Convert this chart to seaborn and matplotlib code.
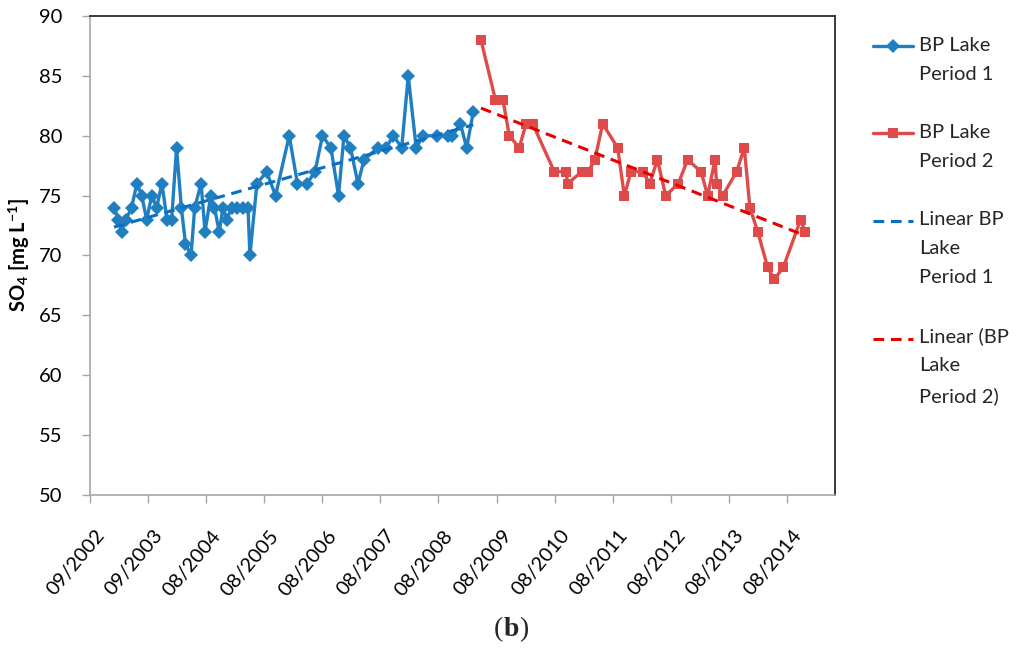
import numpy as np
import pandas as pd
import matplotlib
matplotlib.use("Agg")
import matplotlib.pyplot as plt
import matplotlib.transforms as mtransforms
from matplotlib.legend_handler import HandlerLine2D
from matplotlib.lines import Line2D
import seaborn as sns

# ---- data (days since 2002-09-01, SO4 in mg/L) ----
days_p1 = [151, 179, 198, 226, 261, 295, 325, 356, 388, 419,
           452, 484, 513, 544, 574, 600, 635, 658, 698, 723,
           759, 782, 812, 836, 859, 890, 922, 960, 993, 1005,
           1049, 1110, 1166, 1252, 1304, 1364, 1414, 1461, 1514, 1562,
           1596, 1637, 1684, 1722, 1810, 1860, 1907, 1959, 2000, 2050,
           2094, 2179, 2247, 2278, 2328, 2367, 2409]
so4_p1 = [74, 73, 72, 73, 74, 76, 75, 73, 75, 74,
          76, 73, 73, 79, 74, 71, 70, 74, 76, 72,
          75, 74, 72, 74, 73, 74, 74, 74, 74, 70,
          76, 77, 75, 80, 76, 76, 77, 80, 79, 75,
          80, 79, 76, 78, 79, 79, 80, 79, 85, 79,
          80, 80, 80, 80, 81, 79, 82]
days_p2 = [2457, 2548, 2595, 2635, 2698, 2740, 2782, 2918, 2991, 3002,
           3090, 3131, 3173, 3222, 3316, 3358, 3400, 3475, 3517, 3566,
           3618, 3697, 3756, 3840, 3882, 3928, 3938, 3976, 4064, 4112,
           4147, 4196, 4259, 4300, 4357, 4466, 4493]
so4_p2 = [88, 83, 83, 80, 79, 81, 81, 77, 77, 76,
          77, 77, 78, 81, 79, 75, 77, 77, 76, 78,
          75, 76, 78, 77, 75, 78, 76, 75, 77, 79,
          74, 72, 69, 68, 69, 73, 72]

tick_days = [0, 365, 730, 1095, 1460, 1825, 2190, 2555, 2920, 3285, 3650, 4015, 4380]
tick_labels = ["09/2002", "09/2003", "08/2004", "08/2005", "08/2006", "08/2007",
               "08/2008", "08/2009", "08/2010", "08/2011", "08/2012", "08/2013", "08/2014"]
y_ticks = [50, 55, 60, 65, 70, 75, 80, 85, 90]
series_labels = ["BP Lake\nPeriod 1", "BP Lake\nPeriod 2",
                 "Linear BP\nLake\nPeriod 1", "Linear (BP\nLake\nPeriod 2)"]

BLUE = "#1f7fc1"
RED = "#df4b4b"
BLUE_TR = "#0a6fc2"
RED_TR = "#e80000"

sns.set_theme(style="white")
plt.rcParams["font.family"] = ["Lato", "DejaVu Sans"]
plt.rcParams["mathtext.fontset"] = "custom"
plt.rcParams["mathtext.rm"] = "Lato"
plt.rcParams["mathtext.bf"] = "Lato:bold"
plt.rcParams["mathtext.it"] = "Lato:italic"

W, H = 1024, 649
fig = plt.figure(figsize=(W / 100, H / 100), dpi=100)
ax = fig.add_axes([90 / W, 1 - 495 / H, (835 - 90) / W, (495 - 16) / H])

df1 = pd.DataFrame({"day": days_p1, "so4": so4_p1})
df2 = pd.DataFrame({"day": days_p2, "so4": so4_p2})

MS_D, MS_S = 7, 6.5
sns.lineplot(data=df1, x="day", y="so4", ax=ax, color=BLUE, lw=2.4,
             marker="D", markersize=MS_D, markeredgewidth=0, zorder=3)
sns.lineplot(data=df2, x="day", y="so4", ax=ax, color=RED, lw=2.4,
             marker="s", markersize=MS_S, markeredgewidth=0, zorder=3)

# linear trend lines (least squares over each period)
DASH = (0, (3.5, 2.2))
for df, col in [(df1, BLUE_TR), (df2, RED_TR)]:
    k, b = np.polyfit(df["day"], df["so4"], 1)
    tr = pd.DataFrame({"day": [df["day"].iloc[0], df["day"].iloc[-1]]})
    tr["so4"] = k * tr["day"] + b
    sns.lineplot(data=tr, x="day", y="so4", ax=ax, color=col, lw=2.2,
                 dashes=False, zorder=4, linestyle=DASH)

ax.set_xlim(0, 4682)
ax.set_ylim(50, 90)
ax.set_yticks(y_ticks)
ax.set_xticks(tick_days)
ax.set_xticklabels(tick_labels, rotation=50, ha="right", va="top",
                   rotation_mode="anchor")
ax.set_xlabel("")
ax.set_ylabel(r"SO$_\mathbf{4}$ [mg L$^\mathbf{-1}$]", fontsize=14.5,
              fontweight="bold", color="black")
ax.yaxis.set_label_coords(-0.078, 0.5)

ax.tick_params(axis="both", direction="out", length=6, width=1,
               color="#a6a6a6", labelsize=14.5, labelcolor="black")
ax.tick_params(axis="y", pad=14, left=True)
ax.tick_params(axis="x", pad=17, bottom=True)
off = mtransforms.ScaledTranslation(5 / 100, 0, fig.dpi_scale_trans)
for lab in ax.get_xticklabels():
    lab.set_transform(lab.get_transform() + off)

for s in ["left", "bottom"]:
    ax.spines[s].set_color("#a6a6a6")
    ax.spines[s].set_linewidth(1.2)
for s in ["top", "right"]:
    ax.spines[s].set_color("#3a3a3a")
    ax.spines[s].set_linewidth(1.4)
ax.grid(False)

# legend
LS = 1.85
FS = 14.5
step = 0.74 * LS


class TopHandler(HandlerLine2D):
    def __init__(self, nlines, **kw):
        super().__init__(**kw)
        self.nlines = nlines

    def create_artists(self, legend, orig_handle, xdescent, ydescent,
                       width, height, fontsize, trans):
        arts = super().create_artists(legend, orig_handle, xdescent, ydescent,
                                      width, height, fontsize, trans)
        shift = 0.5 * (self.nlines - 1) * step * fontsize
        for a in arts:
            a.set_ydata(np.asarray(a.get_ydata(), float) + shift)
        return arts


h1 = Line2D([], [], color=BLUE, lw=2.4, marker="D", markersize=MS_D, markeredgewidth=0)
h2 = Line2D([], [], color=RED, lw=2.4, marker="s", markersize=MS_S, markeredgewidth=0)
h3 = Line2D([], [], color=BLUE_TR, lw=2.2, linestyle=DASH)
h4 = Line2D([], [], color=RED_TR, lw=2.2, linestyle=DASH)
handles = [h1, h2, h3, h4]
hmap = {h: TopHandler(lab.count("\n") + 1) for h, lab in zip(handles, series_labels)}
leg = fig.legend(handles, series_labels, loc="upper left",
                 bbox_to_anchor=(873 / W, 1 - 37 / H), frameon=False,
                 fontsize=FS, handlelength=2.0, handletextpad=0.3,
                 labelspacing=2.05, borderpad=0, borderaxespad=0,
                 numpoints=1, handler_map=hmap)
for t in leg.get_texts():
    t.set_linespacing(LS)

# panel caption "(b)" with bold letter
cy = 1 - 630 / H
fig.text(503 / W, cy, "(", ha="right", va="center",
         fontsize=20, family="Liberation Serif")
fig.text(511 / W, cy, "b", ha="center", va="center",
         fontsize=20, fontweight="bold", family="Liberation Serif")
fig.text(519 / W, cy, ")", ha="left", va="center",
         fontsize=20, family="Liberation Serif")

fig.savefig("out.png", dpi=100)
